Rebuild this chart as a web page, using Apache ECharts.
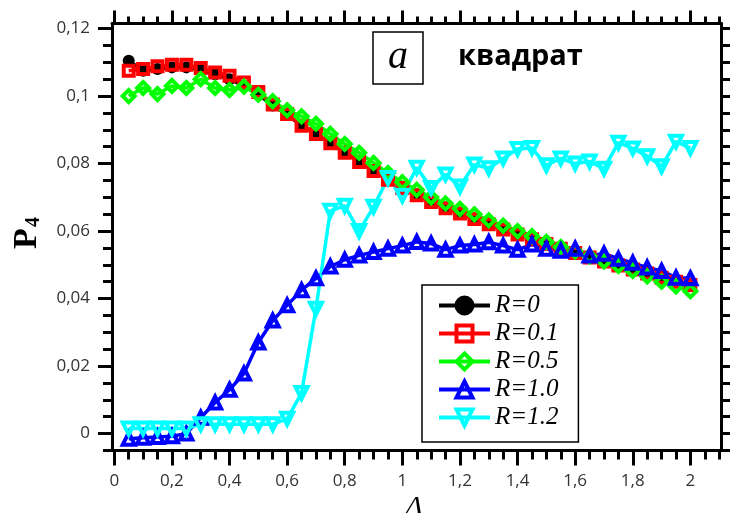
<!DOCTYPE html>
<html>
<head>
<meta charset="utf-8">
<script src="https://cdn.jsdelivr.net/npm/echarts@6/dist/echarts.min.js"></script>
<style>
html,body{margin:0;padding:0;background:#fff;}
#chart{width:730px;height:513px;}
</style>
</head>
<body>
<div id="chart"></div>
<script>
// ---- data ----
const deltaValues = [0.05,0.10,0.15,0.20,0.25,0.30,0.35,0.40,0.45,0.50,
  0.55,0.60,0.65,0.70,0.75,0.80,0.85,0.90,0.95,1.00,
  1.05,1.10,1.15,1.20,1.25,1.30,1.35,1.40,1.45,1.50,
  1.55,1.60,1.65,1.70,1.75,1.80,1.85,1.90,1.95,2.00];

const seriesNames = ['R=0','R=0.1','R=0.5','R=1.0','R=1.2'];

const pR0 = [0.1105,0.1075,0.1080,0.1085,0.1085,0.1078,0.1065,0.1050,0.1030,0.1005,
  0.0972,0.0945,0.0912,0.0888,0.0860,0.0833,0.0806,0.0780,0.0754,0.0730,
  0.0708,0.0688,0.0670,0.0654,0.0638,0.0622,0.0607,0.0592,0.0578,0.0564,
  0.0550,0.0537,0.0524,0.0512,0.0500,0.0488,0.0476,0.0464,0.0452,0.0440];

const pR01 = [0.1075,0.1080,0.1088,0.1093,0.1093,0.1083,0.1070,0.1060,0.1040,0.1012,
  0.0975,0.0947,0.0912,0.0888,0.0860,0.0832,0.0805,0.0778,0.0752,0.0728,
  0.0706,0.0686,0.0668,0.0652,0.0636,0.0620,0.0605,0.0590,0.0576,0.0562,
  0.0548,0.0535,0.0522,0.0510,0.0498,0.0486,0.0474,0.0462,0.0450,0.0440];

const pR05 = [0.1000,0.1024,0.1006,0.1030,0.1024,0.1050,0.1024,0.1018,0.1028,0.1004,
  0.0985,0.0958,0.0940,0.0918,0.0888,0.0858,0.0832,0.0802,0.0772,0.0745,
  0.0722,0.0700,0.0682,0.0666,0.0650,0.0632,0.0616,0.0600,0.0585,0.0568,
  0.0553,0.0540,0.0525,0.0510,0.0497,0.0482,0.0466,0.0450,0.0436,0.0422];

const pR10 = [-0.0015,-0.0012,-0.0010,-0.0008,0.0000,0.0047,0.0092,0.0130,0.0178,0.0270,
  0.0335,0.0380,0.0425,0.0460,0.0495,0.0515,0.0528,0.0538,0.0548,0.0557,
  0.0568,0.0563,0.0545,0.0557,0.0560,0.0567,0.0557,0.0545,0.0560,0.0548,
  0.0542,0.0548,0.0528,0.0533,0.0518,0.0506,0.0492,0.0482,0.0462,0.0460];

const pR12 = [0.0015,0.0015,0.0015,0.0015,0.0015,0.0028,0.0028,0.0028,0.0028,0.0028,
  0.0028,0.0044,0.0120,0.0370,0.0660,0.0675,0.0600,0.0672,0.0757,0.0705,
  0.0788,0.0728,0.0768,0.0732,0.0797,0.0786,0.0815,0.0843,0.0846,0.0795,
  0.0815,0.0800,0.0806,0.0785,0.0862,0.0845,0.0822,0.0792,0.0865,0.0846];

const xTickLabels = [0,0.2,0.4,0.6,0.8,1,1.2,1.4,1.6,1.8,2];
const yTickLabels = [0,0.02,0.04,0.06,0.08,0.1,0.12];

// ---- helpers ----
function r(v){ return Math.round(v*100000)/100000; }
function steps(a,b,s){ const out=[]; const n=Math.round((b-a)/s); for(let i=0;i<=n;i++) out.push(r(a+i*s)); return out; }
const xMinor = steps(0.05,2.1,0.05).filter(v=>!xTickLabels.some(m=>Math.abs(m-v)<1e-6));
const yMinor = steps(-0.005,0.115,0.005).filter(v=>!yTickLabels.some(m=>Math.abs(m-v)<1e-6));
const yAll = steps(-0.005,0.12,0.005);
const fmt = v => String(Math.round(v*1000)/1000).replace('.', ',');

const X_MIN=-0.008, X_MAX=2.108, Y_MIN=-0.005, Y_MAX=0.1215;
const labelFont = {fontFamily:'Open Sans', fontSize:17, color:'#333'};

function xAx(pos, ticks, len, showLine, labels){
  return {type:'value', position:pos, min:X_MIN, max:X_MAX,
    axisLine:{show:showLine, onZero:false, lineStyle:{color:'#000', width:3}},
    axisTick:{show:true, customValues:ticks, length:len, inside:false, lineStyle:{color:'#000', width:3}},
    axisLabel:labels ? Object.assign({show:true, customValues:xTickLabels, formatter:fmt, margin:22}, labelFont) : {show:false},
    splitLine:{show:false}, minorTick:{show:false}};
}
function yAx(pos, ticks, len, showLine, labels){
  return {type:'value', position:pos, min:Y_MIN, max:Y_MAX,
    axisLine:{show:showLine, onZero:false, lineStyle:{color:'#000', width:3}},
    axisTick:{show:true, customValues:ticks, length:len, inside:false, lineStyle:{color:'#000', width:3}},
    axisLabel:labels ? Object.assign({show:true, customValues:yTickLabels, formatter:fmt, margin:22}, labelFont) : {show:false},
    splitLine:{show:false}, minorTick:{show:false}};
}

function mk(name, vals, color, symbol, size, filled, rotate){
  return {
    name, type:'line', xAxisIndex:0, yAxisIndex:0,
    data: deltaValues.map((x,i)=>[x, vals[i]]),
    symbol, symbolSize:size, symbolRotate:rotate||0, showAllSymbol:true,
    lineStyle:{color, width:3.5},
    itemStyle:{color: filled ? color : 'rgba(0,0,0,0)', borderColor:color, borderWidth: filled ? 0 : 4},
    emphasis:{disabled:true}, animation:false
  };
}

const chart = echarts.init(document.getElementById('chart'), null, {renderer:'canvas'});
chart.setOption({
  animation:false,
  backgroundColor:'#fff',
  grid:{left:112, top:23.5, width:609.5, height:427, containLabel:false, outerBoundsMode:'none'},
  xAxis:[
    xAx('bottom', xTickLabels, 15, true, true),
    xAx('bottom', xMinor, 9, false, false),
    xAx('top', xTickLabels, 13, true, false),
    xAx('top', xMinor, 7, false, false)
  ],
  yAxis:[
    yAx('left', yTickLabels, 14, true, true),
    yAx('left', yMinor, 9, false, false),
    yAx('right', yAll, 9, true, false)
  ],
  legend:{
    orient:'vertical', left:422, top:285,
    padding:[8,20,12,15],
    borderColor:'#000', borderWidth:1.5, backgroundColor:'#fff',
    itemWidth:51, itemHeight:20, itemGap:3, itemTextGap:23,
    itemStyle:{borderWidth:4},
    lineStyle:{width:4},
    textStyle:{fontFamily:'Liberation Serif', fontStyle:'italic', fontSize:25, color:'#000', lineHeight:25},
    data:seriesNames, selectedMode:false
  },
  series:[
    mk(seriesNames[0], pR0, '#000000', 'circle', 12, true),
    mk(seriesNames[1], pR01, '#ff0000', 'rect', 10, false),
    mk(seriesNames[2], pR05, '#00ff00', 'diamond', 12, false),
    mk(seriesNames[3], pR10, '#0000ff', 'triangle', 12, false),
    mk(seriesNames[4], pR12, '#00ffff', 'triangle', 12, false, 180)
  ],
  graphic:[
    {type:'rect', shape:{x:373, y:32, width:50, height:52}, style:{fill:'#fff', stroke:'#000', lineWidth:1.5}, z:100},
    {type:'text', x:398, y:57, z:101, style:{text:'a', font:'italic 40px "Liberation Serif"', fill:'#000', align:'center', verticalAlign:'middle'}},
    {type:'text', x:458, y:57, z:101, style:{text:'квадрат', font:'bold 29px "Open Sans"', fill:'#000', align:'left', verticalAlign:'middle'}},
    {type:'text', x:27, y:233, rotation:Math.PI/2, z:101, style:{
      text:'{p|P}{s|4}', align:'center', verticalAlign:'middle', fill:'#000',
      rich:{p:{fontFamily:'Liberation Serif', fontWeight:'bold', fontSize:34, fill:'#000'},
            s:{fontFamily:'Liberation Serif', fontWeight:'bold', fontSize:20, fill:'#000', verticalAlign:'bottom', padding:[0,0,0,1]}}}},
    {type:'text', x:414, y:508, z:101, style:{text:'Δ', font:'italic 28px "Liberation Serif"', fill:'#000', align:'center', verticalAlign:'middle'}}
  ]
});
</script>
</body>
</html>
